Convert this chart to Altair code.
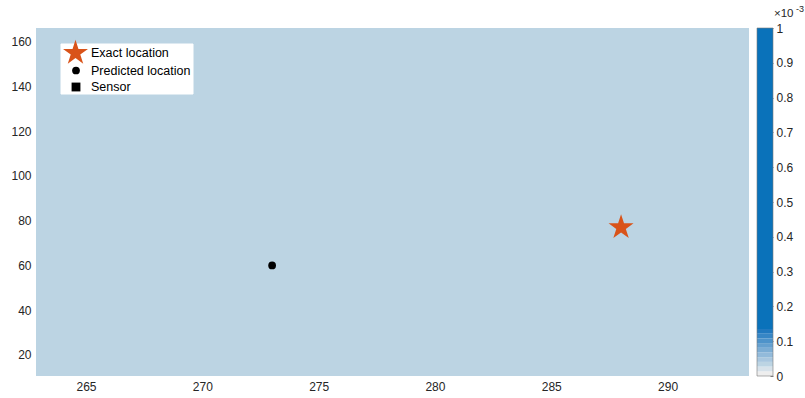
import altair as alt
import pandas as pd

# ---- data -------------------------------------------------------------
# Estimated source-probability field over the search region (uniform here)
grid_x = [262.85, 293.5]
grid_y = [10.6, 166.1]
grid_value = [0.00003]

# Source positions
exact_x = [288.0]
exact_y = [77.0]
pred_x = [273.0]
pred_y = [60.0]

# Axis ticks
x_ticks = [265, 270, 275, 280, 285, 290]
y_ticks = [20, 40, 60, 80, 100, 120, 140, 160]
cbar_ticks = [0, 0.0001, 0.0002, 0.0003, 0.0004, 0.0005,
              0.0006, 0.0007, 0.0008, 0.0009, 0.001]

# Colour map: a short stepped ramp that saturates to blue
cmap_breaks = [1.35e-5, 2.7e-5, 4.05e-5, 5.4e-5, 6.75e-5,
               8.1e-5, 9.45e-5, 1.08e-4, 1.215e-4, 1.35e-4]
cmap_colors = ["#eeeeee", "#d7e2ea", "#bcd4e3", "#a9c7df", "#92bada",
               "#7cadd4", "#65a0cf", "#4e93ca", "#3786c5", "#2179bf",
               "#0a72ba"]
cbar_top = 0.001

legend_labels = ["Exact location", "Predicted location", "Sensor"]

# ---- tables -----------------------------------------------------------
field_df = pd.DataFrame({"x0": [grid_x[0]], "x1": [grid_x[1]],
                         "y0": [grid_y[0]], "y1": [grid_y[1]],
                         "p": grid_value})
exact_df = pd.DataFrame({"x": exact_x, "y": exact_y})
pred_df = pd.DataFrame({"x": pred_x, "y": pred_y})

band_lo = [0.0] + cmap_breaks
band_hi = cmap_breaks + [cbar_top]
cbar_df = pd.DataFrame({"lo": band_lo, "hi": band_hi,
                        "mid": [(a + b) / 2 for a, b in zip(band_lo, band_hi)]})
one = pd.DataFrame({"k": [0]})

W, H = 713, 348
FONT = "Liberation Sans"
INK = "#262626"
ORANGE = "#D95319"
STAR = ("M0,-1 L0.2245,-0.309 L0.951,-0.309 L0.363,0.118 L0.588,0.809 "
        "L0,0.382 L-0.588,0.809 L-0.363,0.118 L-0.951,-0.309 L-0.2245,-0.309 Z")

xs = alt.Scale(domain=grid_x, nice=False, zero=False)
ys = alt.Scale(domain=grid_y, nice=False, zero=False)
cs = alt.Scale(type="threshold", domain=cmap_breaks, range=cmap_colors)

# ---- main panel -------------------------------------------------------
field = alt.Chart(field_df).mark_rect().encode(
    x=alt.X("x0:Q", scale=xs, title=None,
            axis=alt.Axis(values=x_ticks, labelPadding=5)),
    x2="x1:Q",
    y=alt.Y("y0:Q", scale=ys, title=None,
            axis=alt.Axis(values=y_ticks, labelPadding=5)),
    y2="y1:Q",
    color=alt.Color("p:Q", scale=cs, legend=None),
)

exact = alt.Chart(exact_df).mark_point(
    shape=STAR, filled=True, color=ORANGE, size=690, opacity=1
).encode(x=alt.X("x:Q", scale=xs), y=alt.Y("y:Q", scale=ys))

pred = alt.Chart(pred_df).mark_point(
    shape="circle", filled=True, color="black", size=60, opacity=1
).encode(x=alt.X("x:Q", scale=xs), y=alt.Y("y:Q", scale=ys))

# legend box
leg_box = alt.Chart(one).mark_rect(fill="white", stroke="white").encode(
    x=alt.value(25), x2=alt.value(157), y=alt.value(16), y2=alt.value(66))
leg_star = alt.Chart(one).mark_point(
    shape=STAR, filled=True, color=ORANGE, size=690, opacity=1
).encode(x=alt.value(39.5), y=alt.value(25))
leg_dot = alt.Chart(one).mark_point(
    shape="circle", filled=True, color="black", size=60, opacity=1
).encode(x=alt.value(40), y=alt.value(42.5))
leg_sq = alt.Chart(one).mark_point(
    shape="square", filled=True, color="black", size=78, opacity=1
).encode(x=alt.value(40), y=alt.value(59))

leg_text = []
for lbl, yy in zip(legend_labels, [25, 42.5, 59]):
    leg_text.append(
        alt.Chart(pd.DataFrame({"t": [lbl]})).mark_text(
            align="left", baseline="middle", font=FONT, fontSize=12.5,
            color="black"
        ).encode(x=alt.value(55), y=alt.value(yy), text="t:N")
    )

main = alt.layer(field, exact, pred, leg_box, leg_star, leg_dot, leg_sq,
                 *leg_text)

# ---- colour bar -------------------------------------------------------
cby = alt.Scale(domain=[0, cbar_top], nice=False, zero=False)
cbar_bands = alt.Chart(cbar_df).mark_rect().encode(
    x=alt.value(721), x2=alt.value(737),
    y=alt.Y("lo:Q", scale=cby, title=None,
            axis=alt.Axis(orient="right", offset=21, values=cbar_ticks,
                          ticks=True, tickSize=3, tickColor=INK,
                          tickWidth=0.6, labelPadding=3,
                          labelOverlap=False,
                          labelExpr="format(datum.value * 1000, '~g')")),
    y2="hi:Q",
    color=alt.Color("mid:Q", scale=cs, legend=None),
)
cbar_frame = alt.Chart(one).mark_rect(
    fillOpacity=0, stroke="#7a7a7a", strokeWidth=0.6
).encode(x=alt.value(721), x2=alt.value(737),
         y=alt.value(0), y2=alt.value(H))
# multiplier shown above the colour bar
exp_base = alt.Chart(pd.DataFrame({"t": ["\u00d710"]})).mark_text(
    align="left", baseline="middle", font=FONT, fontSize=11.5, color=INK
).encode(x=alt.value(738), y=alt.value(-14), text="t:N")
exp_pow = alt.Chart(pd.DataFrame({"t": ["-3"]})).mark_text(
    align="left", baseline="middle", font=FONT, fontSize=9, color=INK
).encode(x=alt.value(760), y=alt.value(-19), text="t:N")

cbar = alt.layer(cbar_bands, cbar_frame, exp_base, exp_pow)

chart = alt.layer(main, cbar).resolve_scale(y="independent").properties(
    width=W, height=H,
    autosize=alt.AutoSizeParams(type="none"),
    padding={"left": 36, "top": 28, "right": 56, "bottom": 22},
    background="white",
).configure_view(stroke=None).configure_axis(
    grid=False, ticks=False, domain=False,
    labelFont=FONT, labelFontSize=12, labelColor=INK,
)

chart.save("out.html", embed_options={"renderer": "svg", "actions": False})
